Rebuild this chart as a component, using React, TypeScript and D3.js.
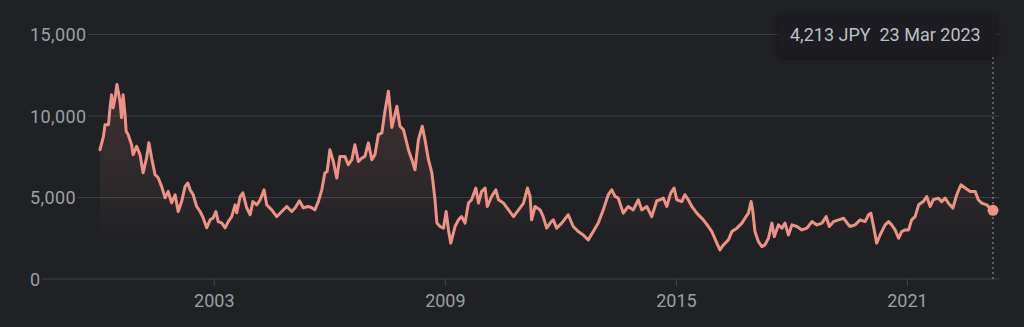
import React, { useEffect, useRef } from "react";
import * as d3 from "d3";

// Decimal-year dates and JPY prices
const years: number[] = [
  2000.03, 2000.12, 2000.16, 2000.25, 2000.29, 2000.33, 2000.37, 2000.42, 2000.47, 2000.55,
  2000.59, 2000.63, 2000.68, 2000.71, 2000.76, 2000.85, 2000.89, 2000.98, 2001.07, 2001.15,
  2001.24, 2001.30, 2001.37, 2001.46, 2001.54, 2001.63, 2001.72, 2001.80, 2001.89, 2001.98,
  2002.06, 2002.15, 2002.24, 2002.31, 2002.37, 2002.45, 2002.54, 2002.63, 2002.71, 2002.80,
  2002.89, 2002.97, 2003.04, 2003.10, 2003.19, 2003.28, 2003.36, 2003.45, 2003.54, 2003.58,
  2003.67, 2003.74, 2003.84, 2003.93, 2004.00, 2004.10, 2004.19, 2004.29, 2004.36, 2004.49,
  2004.62, 2004.75, 2004.88, 2005.01, 2005.10, 2005.21, 2005.31, 2005.44, 2005.53, 2005.61,
  2005.70, 2005.79, 2005.87, 2005.93, 2006.00, 2006.09, 2006.18, 2006.26, 2006.39, 2006.48,
  2006.57, 2006.65, 2006.74, 2006.83, 2006.91, 2007.00, 2007.09, 2007.17, 2007.26, 2007.35,
  2007.43, 2007.52, 2007.61, 2007.74, 2007.82, 2007.91, 2008.04, 2008.13, 2008.21, 2008.30,
  2008.40, 2008.47, 2008.56, 2008.65, 2008.73, 2008.78, 2008.86, 2008.95, 2009.02, 2009.08,
  2009.14, 2009.25, 2009.34, 2009.42, 2009.51, 2009.60, 2009.68, 2009.79, 2009.86, 2009.94,
  2010.03, 2010.09, 2010.20, 2010.31, 2010.38, 2010.51, 2010.64, 2010.77, 2010.90, 2011.03,
  2011.13, 2011.20, 2011.24, 2011.33, 2011.46, 2011.54, 2011.63, 2011.72, 2011.80, 2011.89,
  2012.02, 2012.19, 2012.32, 2012.45, 2012.58, 2012.71, 2012.84, 2012.97, 2013.10, 2013.23,
  2013.32, 2013.41, 2013.49, 2013.62, 2013.75, 2013.88, 2014.01, 2014.10, 2014.23, 2014.36,
  2014.49, 2014.58, 2014.66, 2014.75, 2014.85, 2014.94, 2015.01, 2015.14, 2015.22, 2015.31,
  2015.40, 2015.53, 2015.70, 2015.83, 2015.92, 2016.05, 2016.13, 2016.22, 2016.35, 2016.44,
  2016.57, 2016.70, 2016.78, 2016.87, 2016.94, 2016.98, 2017.04, 2017.13, 2017.22, 2017.30,
  2017.39, 2017.48, 2017.54, 2017.65, 2017.74, 2017.82, 2017.91, 2018.00, 2018.13, 2018.26,
  2018.39, 2018.52, 2018.65, 2018.78, 2018.89, 2018.97, 2019.08, 2019.21, 2019.34, 2019.47,
  2019.51, 2019.64, 2019.77, 2019.90, 2019.99, 2020.05, 2020.12, 2020.20, 2020.29, 2020.42,
  2020.51, 2020.59, 2020.68, 2020.77, 2020.85, 2020.94, 2021.03, 2021.11, 2021.20, 2021.29,
  2021.41, 2021.50, 2021.59, 2021.67, 2021.80, 2021.89, 2021.98, 2022.06, 2022.18, 2022.28,
  2022.39, 2022.50, 2022.63, 2022.76, 2022.84, 2022.93, 2023.06, 2023.19, 2023.222,
];

const prices: number[] = [
  7930, 8750, 9470, 9470, 10500, 11300, 10500, 11100, 11930, 10900,
  9900, 11300, 10090, 9060, 8860, 8240, 7630, 8140, 7630, 6520,
  7440, 8360, 7440, 6400, 6210, 5680, 4980, 5370, 4670, 5170,
  4140, 4750, 5680, 5890, 5470, 5170, 4450, 4140, 3750, 3140,
  3630, 3750, 4140, 3520, 3440, 3140, 3520, 3830, 4550, 4060,
  5060, 5290, 4370, 3940, 4750, 4550, 4860, 5470, 4550, 4240,
  3830, 4140, 4450, 4140, 4370, 4800, 4370, 4450, 4370, 4240,
  4750, 5470, 6500, 6600, 7930, 7210, 6190, 7520, 7520, 7010,
  7320, 8240, 7210, 7420, 7520, 8350, 7320, 7630, 8860, 8960,
  10290, 11520, 9300, 10600, 9370, 9160, 7930, 7320, 6700, 8550,
  9370, 8550, 7320, 6500, 4860, 3430, 3220, 3120, 4140, 3010,
  2200, 3220, 3630, 3830, 3430, 4660, 4860, 5580, 4660, 5370,
  5580, 4450, 5060, 5470, 4860, 4660, 4240, 3830, 4240, 4660,
  5580, 5060, 3630, 4450, 4240, 3830, 3120, 3430, 3630, 3120,
  3430, 3940, 3220, 2910, 2700, 2400, 2910, 3430, 4240, 5170,
  5470, 5060, 4960, 4040, 4450, 4240, 4860, 4240, 4450, 3830,
  4800, 4860, 4960, 4450, 5270, 5580, 4860, 4750, 5170, 4860,
  4450, 4040, 3630, 3220, 2910, 2200, 1780, 2090, 2400, 2910,
  3120, 3430, 3730, 4040, 4750, 4240, 2910, 2290, 1990, 2090,
  2500, 3430, 2600, 3320, 3120, 3430, 2700, 3320, 3220, 3010,
  3120, 3520, 3320, 3430, 3830, 3220, 3520, 3630, 3730, 3320,
  3220, 3320, 3630, 3520, 3940, 4040, 3220, 2200, 2700, 3320,
  3520, 3320, 3010, 2500, 2910, 3010, 3010, 3630, 3830, 4550,
  4750, 5060, 4450, 4860, 4960, 4750, 4960, 4660, 4350, 5170,
  5780, 5580, 5370, 5370, 4860, 4660, 4550, 4240, 4213,
];

const yTicks: number[] = [0, 5000, 10000, 15000];
const xTicks: number[] = [2003, 2009, 2015, 2021];
const tooltipText = "4,213 JPY\u00a0\u00a023 Mar 2023";

export default function App() {
  const ref = useRef<SVGSVGElement>(null);

  useEffect(() => {
    const W = 1024;
    const H = 327;
    const svg = d3.select(ref.current as SVGSVGElement);
    svg.selectAll("*").remove();

    const font = "Roboto, 'Noto Sans', sans-serif";
    const lineColor = "#ee9285";
    const gridColor = "#3c4043";
    const labelColor = "#9aa0a6";

    svg.append("rect").attr("width", W).attr("height", H).attr("fill", "#202124");

    const defs = svg.append("defs");
    const x = d3
      .scaleLinear()
      .domain([years[0], years[years.length - 1]])
      .range([100, 993]);
    const y = d3.scaleLinear().domain([0, 15000]).range([279, 34.5]);

    const grad = defs
      .append("linearGradient")
      .attr("id", "areaFill")
      .attr("gradientUnits", "userSpaceOnUse")
      .attr("x1", 0)
      .attr("x2", 0)
      .attr("y1", y(11000))
      .attr("y2", y(2500));
    grad.append("stop").attr("offset", 0).attr("stop-color", lineColor).attr("stop-opacity", 0.13);
    grad.append("stop").attr("offset", 0.6).attr("stop-color", lineColor).attr("stop-opacity", 0.07);
    grad.append("stop").attr("offset", 1).attr("stop-color", lineColor).attr("stop-opacity", 0);

    const shadow = defs
      .append("filter")
      .attr("id", "tipShadow")
      .attr("x", "-20%")
      .attr("y", "-40%")
      .attr("width", "140%")
      .attr("height", "180%");
    shadow
      .append("feDropShadow")
      .attr("dx", 0)
      .attr("dy", 1)
      .attr("stdDeviation", 3)
      .attr("flood-color", "#000")
      .attr("flood-opacity", 0.45);

    // y gridlines with left-aligned labels
    const labelX = 30;
    yTicks.forEach((t) => {
      const txt = svg
        .append("text")
        .attr("x", labelX)
        .attr("y", y(t) + 6.5)
        .attr("fill", labelColor)
        .attr("font-family", font)
        .attr("font-size", 18)
        .attr("letter-spacing", 0.4)
        .text(d3.format(",")(t));
      const w = (txt.node() as SVGTextElement).getComputedTextLength();
      svg
        .append("line")
        .attr("x1", labelX + w + 2)
        .attr("x2", 999)
        .attr("y1", y(t))
        .attr("y2", y(t))
        .attr("stroke", gridColor)
        .attr("stroke-width", 1.2);
    });

    // x ticks
    xTicks.forEach((t) => {
      svg
        .append("line")
        .attr("x1", x(t))
        .attr("x2", x(t))
        .attr("y1", y(0))
        .attr("y2", y(0) + 7)
        .attr("stroke", gridColor)
        .attr("stroke-width", 1.2);
      svg
        .append("text")
        .attr("x", x(t))
        .attr("y", 307)
        .attr("text-anchor", "middle")
        .attr("fill", labelColor)
        .attr("font-family", font)
        .attr("font-size", 18)
        .text(String(t));
    });

    const pts = years.map((yr, i) => [yr, prices[i]] as [number, number]);

    const area = d3
      .area<[number, number]>()
      .x((d) => x(d[0]))
      .y0(y(0))
      .y1((d) => y(d[1]));
    svg.append("path").attr("d", area(pts) as string).attr("fill", "url(#areaFill)");

    const line = d3
      .line<[number, number]>()
      .x((d) => x(d[0]))
      .y((d) => y(d[1]));
    svg
      .append("path")
      .attr("d", line(pts) as string)
      .attr("fill", "none")
      .attr("stroke", lineColor)
      .attr("stroke-width", 3)
      .attr("stroke-linejoin", "round")
      .attr("stroke-linecap", "round");

    const last = pts[pts.length - 1];

    // dotted crosshair
    svg
      .append("line")
      .attr("x1", x(last[0]))
      .attr("x2", x(last[0]))
      .attr("y1", 57)
      .attr("y2", y(0))
      .attr("stroke", labelColor)
      .attr("stroke-width", 1)
      .attr("stroke-dasharray", "2,3");

    svg
      .append("circle")
      .attr("cx", x(last[0]))
      .attr("cy", y(last[1]))
      .attr("r", 5.5)
      .attr("fill", lineColor);

    // tooltip
    svg
      .append("rect")
      .attr("x", 778)
      .attr("y", 15)
      .attr("width", 218)
      .attr("height", 42)
      .attr("rx", 2)
      .attr("fill", "#1c1d20")
      .attr("filter", "url(#tipShadow)");
    svg
      .append("text")
      .attr("x", 790)
      .attr("y", 41)
      .attr("fill", "#bdc1c6")
      .attr("font-family", font)
      .attr("font-size", 18)
      .text(tooltipText);
  }, []);

  return (
    <div style={{ position: "absolute", left: 0, top: 0, width: 1024, height: 327 }}>
      <svg ref={ref} width={1024} height={327} style={{ display: "block" }} />
    </div>
  );
}
